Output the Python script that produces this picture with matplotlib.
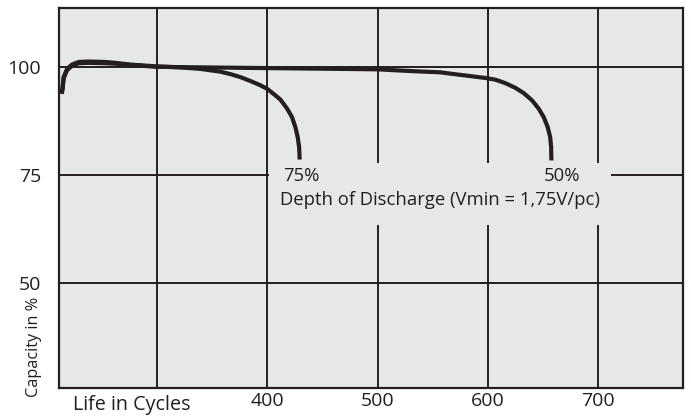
import matplotlib
matplotlib.use("Agg")
import matplotlib.pyplot as plt
from matplotlib.patches import Rectangle

# capacity curves
cycles_75 = [213.5, 214.3, 215.2, 218.3, 222.8, 228.8, 237.9, 253.1, 262.1, 275.7, 298.4, 321.1, 339.2,
             357.4, 366.4, 375.5, 384.6, 393.7, 399.7, 405.7, 411.8, 417.9, 422.4, 425.4, 427.5,
             428.8, 429.3]
capacity_75 = [94.0, 95.4, 97.7, 99.6, 100.6, 101.2, 101.3, 101.2, 101.0, 100.6, 100.2, 99.95, 99.6,
               98.95, 98.4, 97.7, 96.8, 95.8, 95.0, 93.8, 92.5, 90.4, 88.4, 86.1, 83.8,
               81.5, 78.6]

cycles_50 = [213.5, 214.3, 215.2, 218.3, 222.8, 228.8, 237.9, 253.1, 262.1, 275.7, 298.4, 321.1, 429.9,
             499.8, 529.7, 556.9, 566.0, 597.7, 606.8, 615.9, 625.0, 632.5, 640.1, 646.1, 650.7,
             654.3, 656.5, 657.4, 657.6]
capacity_50 = [93.8, 95.1, 97.4, 99.3, 100.3, 100.9, 101.0, 100.9, 100.8, 100.5, 100.1, 100.0, 99.7,
               99.5, 99.1, 98.8, 98.5, 97.5, 97.1, 96.3, 95.2, 94.0, 92.3, 90.4, 88.4,
               86.1, 83.8, 81.5, 78.4]

x_ticks = [300, 400, 500, 600, 700]
x_labels = ["", "400", "500", "600", "700"]
y_ticks = [50, 75, 100]
y_labels = ["50", "75", "100"]

ink = "#231f20"
bg = "#e6e7e8"
plt.rcParams["font.family"] = ["Open Sans", "DejaVu Sans"]

fig = plt.figure(figsize=(6.91, 4.17), dpi=100)
ax = fig.add_axes([59 / 691, 1 - 388 / 417, 624 / 691, 380 / 417])
ax.set_facecolor(bg)

ax.plot(cycles_75, capacity_75, color=ink, lw=3.0, solid_capstyle="butt", zorder=3)
ax.plot(cycles_50, capacity_50, color=ink, lw=3.0, solid_capstyle="butt", zorder=3)

ax.set_xlim(211, 777)
ax.set_ylim(25.7, 113.7)
ax.set_xticks(x_ticks)
ax.set_xticklabels(x_labels)
ax.set_yticks(y_ticks)
ax.set_yticklabels(y_labels)
ax.tick_params(length=0, labelsize=14, colors=ink)
ax.tick_params(axis="y", pad=13)
ax.tick_params(axis="x", pad=3)
ax.set_axisbelow(True)
ax.grid(True, color=ink, lw=1.4)
for s in ax.spines.values():
    s.set_color(ink)
    s.set_linewidth(1.6)

# gap in the grid behind the annotation
ax.add_patch(Rectangle((401.5, 63.4), 310.5, 14.4, facecolor=bg, edgecolor="none", zorder=1))
ax.text(414.5, 74.8, "75%", fontsize=13.3, color=ink, va="center", ha="left", zorder=4)
ax.text(651, 74.8, "50%", fontsize=13.3, color=ink, va="center", ha="left", zorder=4)
ax.text(411.8, 69.2, "Depth of Discharge (Vmin = 1,75V/pc)", fontsize=13.3, color=ink,
        va="center", ha="left", zorder=4)

fig.text(73 / 691, 1 - 405 / 417, "Life in Cycles", fontsize=14.2, color=ink, va="center", ha="left")
fig.text(34 / 691, 1 - 347 / 417, "Capacity in %", fontsize=11.7, color=ink, va="center", ha="center",
         rotation=90)

fig.savefig("out.png", dpi=100)
